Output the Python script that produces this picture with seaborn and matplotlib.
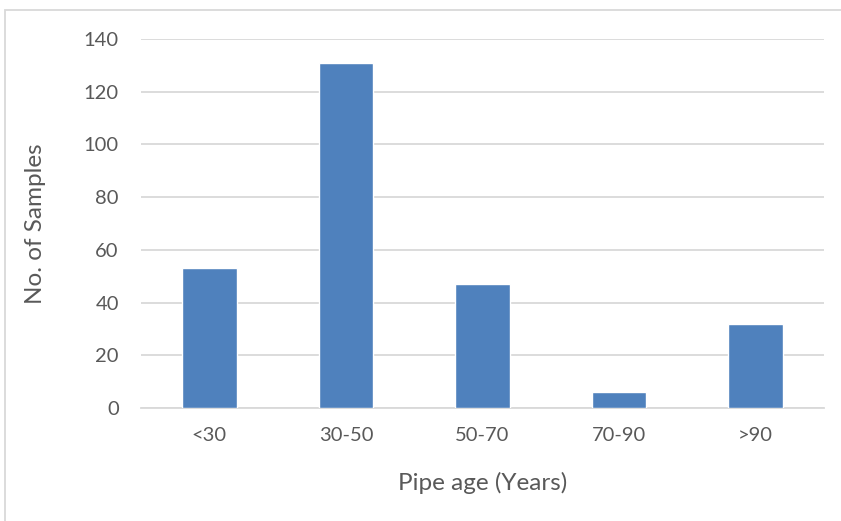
import matplotlib
matplotlib.use("Agg")
import matplotlib.pyplot as plt
import seaborn as sns
import pandas as pd

# Sample counts by pipe age band
age_bands = ["<30", "30-50", "50-70", "70-90", ">90"]
sample_counts = [53, 131, 47, 6, 32]
y_ticks = [0, 20, 40, 60, 80, 100, 120, 140]

df = pd.DataFrame({"age": age_bands, "count": sample_counts})

sns.set_theme(style="white")
plt.rcParams["font.family"] = ["Lato", "DejaVu Sans"]

text_color = "#595959"
grid_color = "#D9D9D9"
bar_color = "#4F81BD"

fig = plt.figure(figsize=(8.41, 5.21), dpi=100)
fig.patch.set_facecolor("white")
ax = fig.add_axes([141 / 841, 113 / 521, 683 / 841, 369 / 521])

sns.barplot(data=df, x="age", y="count", color=bar_color, width=0.4,
            saturation=1, ax=ax, zorder=3)

ax.set_ylim(0, 140)
ax.set_xlim(-0.5, 4.5)
ax.set_yticks(y_ticks)
ax.yaxis.grid(True, color=grid_color, linewidth=1.3, zorder=0)
ax.set_axisbelow(True)
for side in ["top", "right", "left"]:
    ax.spines[side].set_visible(False)
ax.spines["bottom"].set_color(grid_color)
ax.spines["bottom"].set_linewidth(1.3)
ax.tick_params(axis="both", length=0, labelsize=14.5, colors=text_color)
ax.tick_params(axis="y", pad=16)
ax.tick_params(axis="x", pad=14)

ax.set_xlabel("Pipe age (Years)", fontsize=17.5, color=text_color, labelpad=20)
ax.set_ylabel("No. of Samples", fontsize=17.5, color=text_color, labelpad=27)

# Chart area border
border = plt.Rectangle((5 / 841, -0.1), 1.2, 1 - 9.5 / 521 + 0.1,
                       transform=fig.transFigure, fill=False,
                       edgecolor=grid_color, linewidth=1.3)
fig.add_artist(border)

fig.savefig("out.png", dpi=100, facecolor="white")
